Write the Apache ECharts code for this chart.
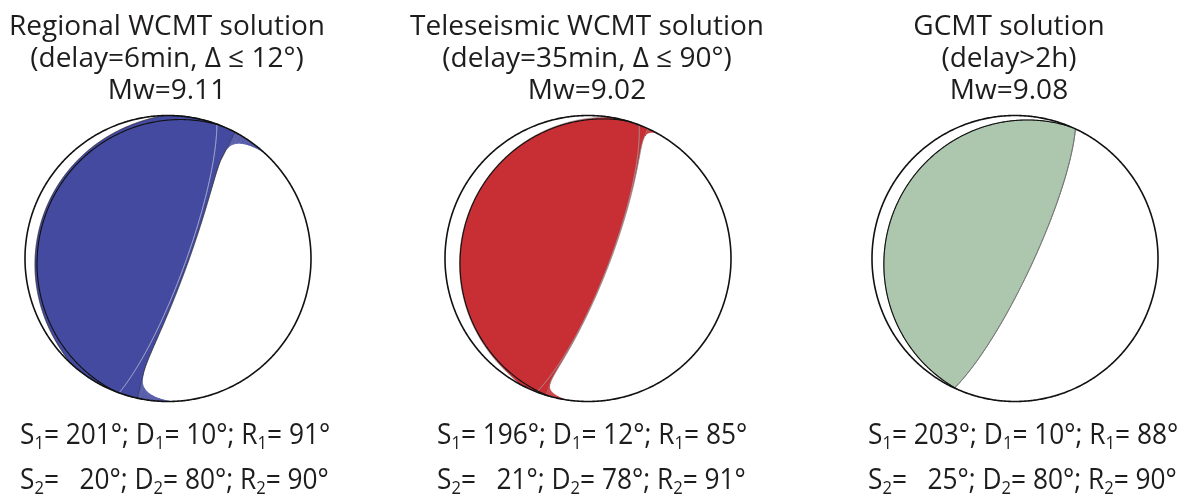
<!DOCTYPE html>
<html>
<head>
<meta charset="utf-8">
<script src="https://cdn.jsdelivr.net/npm/echarts@6/dist/echarts.min.js"></script>
<style>
  html, body { margin: 0; padding: 0; background: #fff; }
  #chart { width: 1189px; height: 499px; }
</style>
</head>
<body>
<div id="chart"></div>
<script>
// Three moment-tensor solutions of the same event
const solutionNames = ['Regional WCMT solution', 'Teleseismic WCMT solution', 'GCMT solution'];
const solutionDelays = ['(delay=6min, Δ ≤ 12°)', '(delay=35min, Δ ≤ 90°)', '(delay>2h)'];
const magnitudes = [9.11, 9.02, 9.08];
// Nodal plane 1 (strike, dip, rake in degrees)
const strike1 = [201, 196, 203];
const dip1 = [10, 12, 10];
const rake1 = [91, 85, 88];
// Nodal plane 2
const strike2 = [20, 21, 25];
const dip2 = [80, 78, 80];
const rake2 = [90, 91, 90];
// Non-double-couple (isotropic) share of each tensor
const isoPart = [0.05, 0.012, 0];

const fillColors = ['#434a9f', '#c82f34', '#acc7ad'];
const edgeColors = ['#2a2a2a', '#8c8c8c', '#6e6e6e'];
const dcLineColors = ['rgba(190,192,215,0.9)', 'rgba(160,160,160,0.9)', 'rgba(110,110,110,0.9)'];

// layout of the three spheres (pixels)
const ballCx = [168, 588, 1015];
const ballCy = 258.5;
const ballR = 143;
const titleCx = [167, 587, 1009];
const paramLeft = [20, 437, 868];

const FONT = '"Open Sans", "Noto Sans", sans-serif';
const TEXT_COLOR = '#1e1c1d';
const D2R = Math.PI / 180;

// Aki & Richards moment tensor, x = north, y = east, z = down
function momentTensor(s, d, l) {
  s *= D2R; d *= D2R; l *= D2R;
  const sd = Math.sin(d), cd = Math.cos(d), s2d = Math.sin(2 * d), c2d = Math.cos(2 * d);
  const sl = Math.sin(l), cl = Math.cos(l);
  const ss = Math.sin(s), cs = Math.cos(s), s2s = Math.sin(2 * s), c2s = Math.cos(2 * s);
  return {
    xx: -(sd * cl * s2s + s2d * sl * ss * ss),
    xy: sd * cl * c2s + 0.5 * s2d * sl * s2s,
    xz: -(cd * cl * cs + c2d * sl * ss),
    yy: sd * cl * s2s - s2d * sl * cs * cs,
    yz: -(cd * cl * ss - c2d * sl * cs),
    zz: s2d * sl
  };
}

// P-wave polarity at a point of the lower-hemisphere equal-area net
function polarity(M, iso, x, y) {
  const r = Math.hypot(x, y);
  const inc = 2 * Math.asin(Math.min(1, r / Math.SQRT2));
  const az = Math.atan2(x, y);
  const n1 = Math.sin(inc) * Math.cos(az);
  const n2 = Math.sin(inc) * Math.sin(az);
  const n3 = Math.cos(inc);
  return M.xx * n1 * n1 + M.yy * n2 * n2 + M.zz * n3 * n3 +
    2 * (M.xy * n1 * n2 + M.xz * n1 * n3 + M.yz * n2 * n3) + iso;
}

// compressional intervals [r0, r1] along one azimuth
function positiveIntervals(M, iso, phi) {
  const N = 300, sx = Math.sin(phi), cy = Math.cos(phi);
  const f = r => polarity(M, iso, r * sx, r * cy);
  const out = [];
  let prev = f(0), rPrev = 0, start = prev > 0 ? 0 : null;
  for (let k = 1; k <= N; k++) {
    const r = k / N, v = f(r);
    if ((v > 0) !== (prev > 0)) {
      let a = rPrev, b = r, fa = prev;
      for (let it = 0; it < 30; it++) {
        const m = (a + b) / 2, fm = f(m);
        if ((fm > 0) === (fa > 0)) { a = m; fa = fm; } else { b = m; }
      }
      const rc = (a + b) / 2;
      if (v > 0) start = rc; else { out.push([start, rc]); start = null; }
    }
    prev = v; rPrev = r;
  }
  if (start !== null) out.push([start, 1]);
  return out;
}

// great circle of a nodal plane in the equal-area net
function planeTrace(s, d) {
  const pts = [];
  s *= D2R; d *= D2R;
  const sv = [Math.cos(s), Math.sin(s), 0];
  const dv = [Math.cos(d) * Math.cos(s + Math.PI / 2), Math.cos(d) * Math.sin(s + Math.PI / 2), Math.sin(d)];
  for (let t = 0; t <= 180; t += 0.5) {
    const c = Math.cos(t * D2R), si = Math.sin(t * D2R);
    const n = [c * sv[0] + si * dv[0], c * sv[1] + si * dv[1], Math.max(0, c * sv[2] + si * dv[2])];
    const inc = Math.acos(Math.min(1, n[2]));
    const az = Math.atan2(n[1], n[0]);
    const r = Math.SQRT2 * Math.sin(inc / 2);
    pts.push([r * Math.sin(az), r * Math.cos(az)]);
  }
  return pts;
}

function beachballGeometry(i) {
  const M = momentTensor(strike1[i], dip1[i], rake1[i]);
  const iso = isoPart[i] * 1;
  const step = 0.25 * D2R;
  const main = [], extra = [];
  for (let k = 0; k < 1440; k++) {
    const phi = k * step;
    const iv = positiveIntervals(M, iso, phi);
    let rest = iv;
    if (iv.length && iv[0][0] === 0) {
      main.push([iv[0][1] * Math.sin(phi), iv[0][1] * Math.cos(phi)]);
      rest = iv.slice(1);
    } else {
      main.push([0, 0]);
    }
    rest.forEach(([r0, r1]) => {
      const a = phi - step * 0.65, b = phi + step * 0.65;
      extra.push([
        [r0 * Math.sin(a), r0 * Math.cos(a)], [r1 * Math.sin(a), r1 * Math.cos(a)],
        [r1 * Math.sin(b), r1 * Math.cos(b)], [r0 * Math.sin(b), r0 * Math.cos(b)]
      ]);
    });
  }
  const rim = [];
  for (let k = 0; k <= 720; k++) {
    const a = k * 0.5 * D2R;
    rim.push([Math.sin(a), Math.cos(a)]);
  }
  return { main, extra, rim, p1: planeTrace(strike1[i], dip1[i]), p2: planeTrace(strike2[i], dip2[i]) };
}

const geometries = [0, 1, 2].map(beachballGeometry);

const grids = [], xAxes = [], yAxes = [], series = [];
[0, 1, 2].forEach(i => {
  grids.push({ left: ballCx[i] - ballR, top: ballCy - ballR, width: 2 * ballR, height: 2 * ballR });
  xAxes.push({ type: 'value', gridIndex: i, min: -1, max: 1, show: false });
  yAxes.push({ type: 'value', gridIndex: i, min: -1, max: 1, show: false });
  series.push({
    type: 'custom',
    xAxisIndex: i,
    yAxisIndex: i,
    data: [[0, 0]],
    silent: true,
    renderItem: (params, api) => {
      const g = geometries[i];
      const toPx = pts => pts.map(p => api.coord(p));
      const children = [];
      children.push({
        type: 'polygon',
        shape: { points: toPx(g.main) },
        style: { fill: fillColors[i], stroke: edgeColors[i], lineWidth: 0.8 }
      });
      g.extra.forEach(q => children.push({
        type: 'polygon', shape: { points: toPx(q) }, style: { fill: fillColors[i] }
      }));
      children.push({
        type: 'polyline', shape: { points: toPx(g.p2) },
        style: { stroke: dcLineColors[i], lineWidth: 1, fill: null }
      });
      children.push({
        type: 'polyline', shape: { points: toPx(g.p1) },
        style: { stroke: '#111', lineWidth: 1.1, fill: null }
      });
      children.push({
        type: 'polyline', shape: { points: toPx(g.rim) },
        style: { stroke: '#111', lineWidth: 1.6, fill: null }
      });
      return { type: 'group', children };
    }
  });
});

// headers and nodal-plane parameter lines
const pad = v => ' '.repeat(1 + 2 * (3 - String(v).length)) + v;
const richStyles = {
  m: { fontSize: 30, fontFamily: FONT, lineHeight: 36, fill: TEXT_COLOR },
  b: { fontSize: 19, fontFamily: FONT, lineHeight: 13, verticalAlign: 'bottom', fill: TEXT_COLOR }
};
const paramLine = (k, s, d, r) =>
  `{m|S}{b|${k}}{m|=${pad(s)}°; D}{b|${k}}{m|= ${d}°; R}{b|${k}}{m|= ${r}°}`;

const graphics = [];
[0, 1, 2].forEach(i => {
  graphics.push({
    type: 'text', x: titleCx[i], y: 11, silent: true,
    style: {
      text: [solutionNames[i], solutionDelays[i], 'Mw=' + magnitudes[i].toFixed(2)].join('\n'),
      font: '28px ' + FONT, lineHeight: 32, fill: TEXT_COLOR,
      align: 'center', textAlign: 'center', verticalAlign: 'top', textVerticalAlign: 'top'
    }
  });
  [[1, strike1[i], dip1[i], rake1[i], 417], [2, strike2[i], dip2[i], rake2[i], 462]].forEach(([k, s, d, r, y]) => {
    graphics.push({
      type: 'text', x: paramLeft[i], y, scaleX: 0.876, silent: true,
      style: {
        text: paramLine(k, s, d, r), rich: richStyles,
        font: '30px ' + FONT, fill: TEXT_COLOR,
        align: 'left', textAlign: 'left', verticalAlign: 'top', textVerticalAlign: 'top'
      }
    });
  });
});

const chart = echarts.init(document.getElementById('chart'), null, { renderer: 'canvas' });
chart.setOption({
  animation: false,
  backgroundColor: '#fff',
  grid: grids,
  xAxis: xAxes,
  yAxis: yAxes,
  series,
  graphic: graphics
});
</script>
</body>
</html>
